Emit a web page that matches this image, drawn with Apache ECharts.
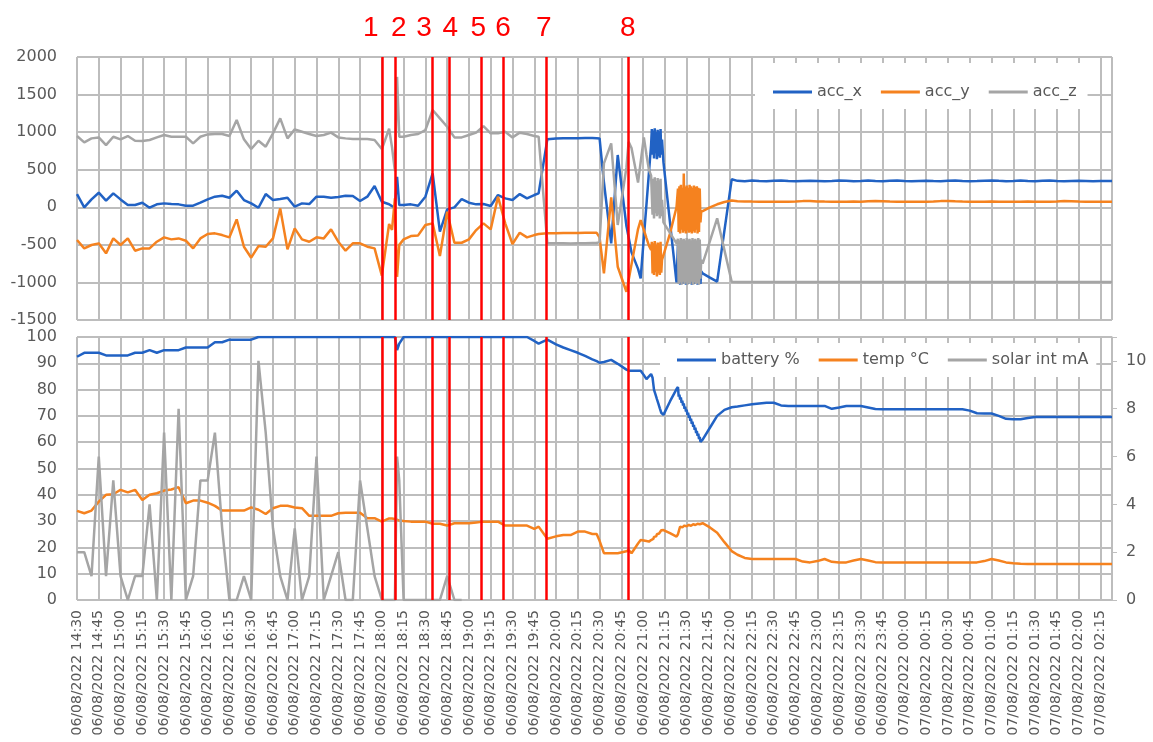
<!DOCTYPE html>
<html>
<head>
<meta charset="utf-8">
<title>acc / battery / temp / solar</title>
<script src="https://cdn.jsdelivr.net/npm/echarts@6/dist/echarts.min.js"></script>
<style>
	html, body { margin: 0; padding: 0; background: #fff; }
	#chart { width: 1153px; height: 742px; }
</style>
</head>
<body>
<div id="chart"></div>
<script>
// minutes after 06/08/2022 14:30
var minutes = [0,5,10,15,20,25,30,35,40,45,50,55,60,65,70,75,80,85,90,95,100,105,110,115,120,125,130,135,140,145,150,155,160,165,170,175,180,185,190,195,200,205,210,215,
	217,219,220.5,222,
	225,230,235,240,245,250,255,260,265,270,275,280,285,290,295,300,305,310,315,
	318,324,330,335,340,345,350,355,358,360,363,368,372.5,378.5,380,382,386.5,388.3,390.5,392.3,394,395.5,
	396,396.5,397,397.5,398,398.5,399,399.5,400,400.5,401,401.5,402,402.5,403,
	404,408.5,413,
	414,414.5,415,415.5,416,416.5,417,417.5,418,418.5,419,419.5,420,420.5,421,421.5,422,422.5,423,423.5,424,424.5,425,425.5,426,426.5,427,427.5,428,428.5,429,429.5,430,
	431,436,441,446,451,
	455,460,465,470,475,480,485,490,495,500,505,510,515,520,525,530,535,540,545,550,555,560,565,570,575,580,585,590,595,600,605,610,615,620,625,630,635,640,645,650,655,660,665,670,675,680,685,690,695,700,705,710,713];

var accX = [176,-1,105,194,88,185,105,30,30,61,-6,39,52,43,39,21,21,61,105,141,154,127,221,96,52,-6,176,96,110,127,8,52,43,141,141,127,136,154,150,83,141,283,74,40,
	15,0,405,30,
	30,39,21,141,451,-325,-28,-1,110,61,39,43,17,163,119,96,176,119,163,
	185,904,915,918,918,920,922,922,920,917,330,-480,696,-250,-400,-600,-820,-946,-400,40,460,830,
	1040,700,1020,650,1050,720,1000,640,1030,680,1010,660,1040,700,900,
	600,-200,-1000,
	-500,-1000,-480,-1030,-520,-990,-470,-1020,-500,-1010,-490,-1030,-510,-1000,-480,-1020,-500,-990,-470,-1030,-520,-1000,-490,-1020,-500,-1010,-480,-1030,-510,-1000,-500,-1020,-850,
	-880,-935,-990,-310,372,
	352,348,355,350,347,352,356,349,346,350,354,351,347,350,355,352,348,351,356,350,347,352,355,349,346,351,354,350,347,353,356,351,348,350,354,357,352,348,351,355,350,347,352,356,350,346,350,353,350,347,350,350,350];

var accY = [-436,-547,-502,-480,-613,-414,-502,-414,-578,-547,-547,-458,-400,-427,-414,-445,-547,-414,-356,-347,-370,-400,-161,-525,-671,-516,-525,-414,-15,-560,-281,-427,-458,-400,-414,-294,-458,-578,-480,-480,-525,-547,-910,-223,
	-300,120,-925,-500,
	-427,-383,-374,-236,-214,-649,-59,-472,-472,-427,-303,-214,-294,141,-214,-489,-338,-401,-370,
	-356,-345,-345,-343,-342,-341,-340,-340,-340,-400,-880,132,-791,-1124,-970,-760,-290,-170,-300,-410,-510,-569,
	-460,-880,-480,-900,-450,-860,-500,-920,-470,-880,-480,-900,-460,-870,-700,
	-700,-350,0,
	250,-330,280,-350,300,-300,260,-340,450,-320,270,-350,290,-310,260,-340,300,-330,280,-350,260,-320,290,-340,270,-300,280,-350,260,-330,250,-200,-60,
	-58,0,40,70,90,
	80,78,76,75,75,75,75,75,76,82,84,78,76,75,75,75,76,75,80,84,80,76,75,75,75,75,75,76,82,84,79,76,75,75,75,76,75,75,75,75,76,75,75,75,78,83,80,76,75,75,75,75,75];

var accZ = [948,864,917,930,828,939,904,948,886,882,895,930,962,939,939,939,851,939,970,975,975,948,1161,904,775,886,806,984,1183,917,1037,1006,975,948,962,993,930,917,908,908,908,895,775,1045,
	800,480,1735,940,
	939,962,975,1028,1294,1183,1072,930,930,962,993,1081,984,984,1006,930,993,975,948,
	940,-478,-478,-480,-482,-480,-478,-476,-475,-460,585,851,-236,530,870,790,330,600,930,700,500,420,
	400,-100,380,-150,400,-80,350,-120,390,-100,360,-150,380,-120,100,
	-200,-340,-480,
	-420,-1020,-440,-1000,-410,-1030,-430,-990,-420,-1020,-440,-1000,-410,-1030,-430,-1010,-420,-1020,-440,-990,-410,-1030,-430,-1000,-420,-1020,-440,-1010,-410,-1030,-430,-950,-700,
	-750,-450,-147,-570,-990,
	-995,-995,-995,-995,-995,-995,-995,-995,-995,-995,-995,-995,-995,-995,-995,-995,-995,-995,-995,-995,-995,-995,-995,-995,-995,-995,-995,-995,-995,-995,-995,-995,-995,-995,-995,-995,-995,-995,-995,-995,-995,-995,-995,-995,-995,-995,-995,-995,-995,-995,-995,-995,-995];

var battery = [92.5,94,94,94,93,93,93,93,94,94,95,94,95,95,95,96,96,96,96,98,98,99,99,99,99,100,100,100,100,100,100,100,100,100,100,100,100,100,100,100,100,100,100,100,
	100,100,95,97.5,
	100,100,100,100,100,100,100,100,100,100,100,100,100,100,100,100,100,100,98.5,
	97.5,99,97.2,96,95,94,92.8,91.5,90.8,90.2,90.5,91.3,89.8,87.6,87.2,87.2,87.2,87.2,85.5,84,85,85.9,
	85.9,84.5,82.2,79.9,80.5,78.2,78.7,76.4,77,74.7,75.2,72.9,73.5,71.2,71.7,
	70.4,75.5,80.2,
	81,77.3,78.1,76.2,77,75,75.8,73.9,74.7,72.7,73.5,71.6,72.4,70.4,71.2,69.3,70.1,68.1,68.9,67,67.8,65.8,66.6,64.7,65.5,63.5,64.3,62.4,63.2,61.2,62,60.1,60.5,
	61,65.5,70,72.3,73.3,
	73.6,74,74.4,74.7,75,75,74,73.8,73.8,73.8,73.8,73.8,73.8,72.7,73.2,73.8,73.8,73.8,73.2,72.6,72.5,72.5,72.5,72.5,72.5,72.5,72.5,72.5,72.5,72.5,72.5,72.5,72,71,70.9,70.9,70,68.9,68.7,68.7,69.2,69.6,69.6,69.6,69.6,69.6,69.6,69.6,69.6,69.6,69.6,69.6,69.6];

var temp = [33.9,33,34,37.4,40,40.2,41.9,40.9,41.9,38,40,40.6,41.6,42,42.9,36.8,37.8,37.8,37,35.8,34,34,34,34,35.2,34.3,32.7,34.9,35.8,35.8,35.2,34.9,32,32,32,32,33,33.2,33.2,33.2,31.1,31.1,29.8,31,
	31,30.8,30.5,30.2,
	30,29.8,29.8,29.8,29,29,28.3,29.2,29.2,29.2,29.5,29.8,29.8,29.8,28.3,28.3,28.3,28.3,27,
	27.9,23.3,24.2,24.7,24.7,26,26,25.1,25.1,22.5,17.8,17.8,17.8,18.5,19,17.8,21.5,22.8,22.6,22.4,22.2,22.8,
	23,23.5,23.2,24,23.8,24.5,24.2,25,24.8,25.5,25.3,26,25.8,26.5,26.4,
	26.6,25.4,24.1,
	25,26,27,27.9,27.5,28,27.6,28.2,27.8,28.3,27.9,28.4,28,28.5,28.1,28.6,28.2,28.5,28.2,28.7,28.3,28.8,28.4,28.8,28.5,28.9,28.5,29,28.6,29,28.8,29.2,29.2,
	29.2,27.6,25.6,22,18.6,
	17.2,16,15.6,15.6,15.6,15.6,15.6,15.6,15.6,14.6,14.3,14.8,15.6,14.5,14.3,14.3,15,15.6,15,14.4,14.3,14.3,14.3,14.3,14.3,14.3,14.3,14.3,14.3,14.3,14.3,14.3,14.3,14.3,14.8,15.6,15,14.3,14,13.8,13.7,13.7,13.7,13.7,13.7,13.7,13.7,13.7,13.7,13.7,13.7,13.7,13.7];

// solar stops being logged after ~18:55
var solar = [2,2,1,6,1,5,1,0,1,1,4,0,7,0,8,0,1,5,5,7,3,0,0,1,0,10,7,3,1,0,3,0,1,6,0,1,2,0,0,5,3,1,0,0,
	0,0,6,5,
	0,0,0,0,0,0,1,0,0];

var events = [210, 219, 244.5, 256.5, 278.5, 293.5, 323, 379.5];
var eventNames = ['1', '2', '3', '4', '5', '6', '7', '8'];

var main = {
	init: function() {
		main.chart()
	},
	pad: function(n) {
		return n < 10 ? '0' + n : '' + n;
	},
	timeLabel: function(v) {
		if (v % 15 !== 0) return '';
		var total = 14 * 60 + 30 + v;
		var day = total >= 1440 ? '07' : '06';
		total = total % 1440;
		return day + '/08/2022 ' + main.pad(Math.floor(total / 60)) + ':' + main.pad(total % 60);
	},
	pairs: function(values) {
		return minutes.map(function(t, i) {
			var v = values[i];
			return [t, v === undefined ? null : v];
		});
	},
	// tick values of an axis, the extent end included
	ticks: function(min, max, step) {
		var out = [];
		for (var v = min; v <= max; v += step) out.push(v);
		if (out[out.length - 1] !== max) out.push(max);
		return out;
	},
	chart: function() {
		var myChart = echarts.init(document.getElementById('chart'));
		var font = 'DejaVu Sans';
		var labelGrey = '#595959';
		var gridGrey = '#bdbdbd';
		var blue = '#2162c4', orange = '#f5821f', grey = '#a5a5a5';
		var plotH = 263;
		var xMax = 713;
		// nudges so the red numbers sit where they were typed
		var labelShift = [-11, 4, -8, 1, -3, 0, -2, 0];

		var markData = events.map(function(v, i) {
			var s = labelShift[i];
			return {
				xAxis: v,
				label: {
					formatter: eventNames[i],
					padding: s < 0 ? [0, -2 * s, 0, 0] : [0, 0, 0, 2 * s]
				}
			};
		});

		function line(name, color, values, xi, yi) {
			return {
				name: name,
				type: 'line',
				xAxisIndex: xi,
				yAxisIndex: yi,
				data: main.pairs(values),
				symbol: 'none',
				showSymbol: false,
				connectNulls: false,
				z: 2,
				lineStyle: { color: color, width: 2.5 },
				itemStyle: { color: color }
			};
		}

		function plain(v) {
			return String(v);
		}

		// the grid is drawn as grey marker lines under the data
		function gridLines(yMin, yMax, yStep) {
			var data = main.ticks(0, xMax, 15).map(function(v) { return { xAxis: v }; })
				.concat(main.ticks(yMin, yMax, yStep).map(function(v) { return { yAxis: v }; }));
			return {
				silent: true,
				z: 1,
				symbol: ['none', 'none'],
				animation: false,
				label: { show: false },
				emphasis: { disabled: true },
				lineStyle: { color: gridGrey, width: 2, type: 'solid' },
				data: data
			};
		}

		function xAxisFor(i) {
			return {
				gridIndex: i,
				type: 'value',
				min: 0,
				max: xMax,
				interval: 15,
				axisLine: { show: false },
				axisTick: { show: false },
				splitLine: { show: false },
				axisLabel: i === 0 ? { show: false } : {
					show: true,
					rotate: 90,
					margin: 10,
					color: labelGrey,
					fontSize: 14,
					fontFamily: font,
					showMaxLabel: false,
					formatter: main.timeLabel
				}
			};
		}

		var accX_s = line('acc_x', blue, accX, 0, 0);
		accX_s.markLine = gridLines(-1500, 2000, 500);

		var battery_s = line('battery %', blue, battery, 1, 1);
		battery_s.markLine = gridLines(0, 100, 10);

		var accZ_s = line('acc_z', grey, accZ, 0, 0);
		accZ_s.markLine = {
			silent: true,
			symbol: ['none', 'none'],
			animation: false,
			lineStyle: { color: '#ff0000', width: 2.5, type: 'solid' },
			label: {
				show: true,
				position: 'end',
				distance: 15,
				color: '#ff0000',
				fontSize: 28,
				fontFamily: 'Liberation Sans'
			},
			data: markData
		};

		var solar_s = line('solar int mA', grey, solar, 1, 2);
		solar_s.markLine = {
			silent: true,
			symbol: ['none', 'none'],
			animation: false,
			lineStyle: { color: '#ff0000', width: 2.5, type: 'solid' },
			label: { show: false },
			data: events.map(function(v) { return { xAxis: v }; })
		};

		var legendBase = {
			icon: 'rect',
			itemWidth: 39,
			itemHeight: 3,
			itemGap: 19,
			z: 6,
			backgroundColor: '#fff',
			textStyle: { color: labelGrey, fontSize: 16, fontFamily: font }
		};

		var option = {
			animation: false,
			textStyle: { fontFamily: font },
			grid: [
				{ left: 77, right: 41, top: 57, height: plotH },
				{ left: 77, right: 41, top: 337, height: plotH }
			],
			legend: [
				Object.assign({}, legendBase, {
					data: ['acc_x', 'acc_y', 'acc_z'],
					left: 755,
					top: 63,
					padding: [21, 11, 9, 18]
				}),
				Object.assign({}, legendBase, {
					data: ['battery %', 'temp °C', 'solar int mA'],
					left: 660,
					top: 343,
					padding: [9, 8, 9, 17]
				})
			],
			xAxis: [xAxisFor(0), xAxisFor(1)],
			yAxis: [{
				gridIndex: 0,
				type: 'value',
				min: -1500,
				max: 2000,
				interval: 500,
				axisLine: { show: false },
				axisTick: { show: false },
				axisLabel: { color: labelGrey, fontSize: 16, fontFamily: font, margin: 20, formatter: plain },
				splitLine: { show: false }
			}, {
				gridIndex: 1,
				type: 'value',
				min: 0,
				max: 100,
				interval: 10,
				axisLine: { show: false },
				axisTick: { show: false },
				axisLabel: { color: labelGrey, fontSize: 16, fontFamily: font, margin: 20, formatter: plain },
				splitLine: { show: false }
			}, {
				gridIndex: 1,
				type: 'value',
				position: 'right',
				min: 0,
				max: 11,
				interval: 2,
				axisLine: { show: true, lineStyle: { color: '#bfbfbf', width: 1.5 } },
				axisTick: { show: true, length: 5, lineStyle: { color: '#bfbfbf' } },
				axisLabel: {
					color: labelGrey,
					fontSize: 16,
					fontFamily: font,
					margin: 14,
					formatter: function(v) { return v > 10 ? '' : String(v); }
				},
				splitLine: { show: false }
			}],
			series: [
				accX_s,
				line('acc_y', orange, accY, 0, 0),
				accZ_s,
				battery_s,
				line('temp °C', orange, temp, 1, 1),
				solar_s
			]
		};

		myChart.setOption(option);
	}
}

main.init()
</script>
</body>
</html>
